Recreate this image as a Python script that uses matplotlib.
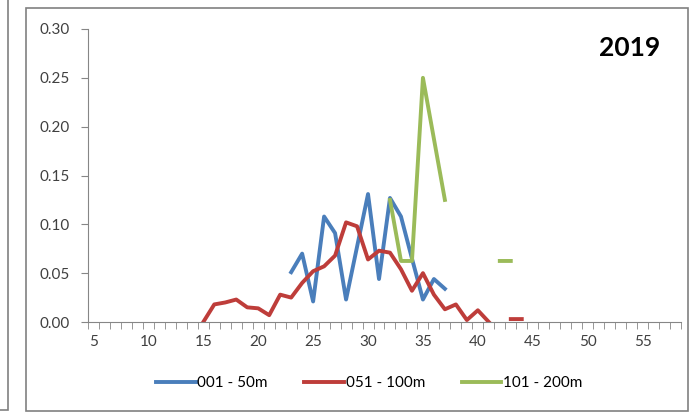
import matplotlib
matplotlib.use('Agg')
import matplotlib.pyplot as plt
from matplotlib.patches import Rectangle
import numpy as np

nan = np.nan

blue_x = list(range(23, 38))
blue_vals = [0.051, 0.070, 0.021, 0.108, 0.091, 0.023, 0.077, 0.131, 0.044,
             0.127, 0.108, 0.065, 0.023, 0.044, 0.034]

red_x = list(range(15, 45))
red_vals = [0.0, 0.018, 0.020, 0.023, 0.015, 0.014, 0.007, 0.028, 0.025, 0.040,
            0.052, 0.057, 0.068, 0.102, 0.098, 0.064, 0.073, 0.071, 0.054, 0.032,
            0.050, 0.028, 0.013, 0.018, 0.002, 0.012, 0.0, nan, 0.003, 0.003]

green_x = list(range(32, 44))
green_vals = [0.125, 0.0625, 0.0625, 0.25, 0.1875, 0.125, nan, nan, nan, nan,
              0.0625, 0.0625]

labels = ['001 - 50m', '051 - 100m', '101 - 200m']
colors = ['#4a7ebb', '#be3d3a', '#9bbb59']
x_ticks = [5, 10, 15, 20, 25, 30, 35, 40, 45, 50, 55]
y_ticks = [0.0, 0.05, 0.10, 0.15, 0.20, 0.25, 0.30]

plt.rcParams['font.family'] = ['Lato', 'DejaVu Sans']

fig = plt.figure(figsize=(6.92, 4.16), dpi=100)
ax = fig.add_axes([88 / 692, 1 - 322 / 416, (681 - 88) / 692, (322 - 29) / 416])

for xs, ys, lab, c in zip([blue_x, red_x, green_x],
                          [blue_vals, red_vals, green_vals], labels, colors):
    ax.plot(xs, ys, color=c, lw=2.8, label=lab, solid_joinstyle='round')

ax.set_xlim(4.5, 58.5)
ax.set_ylim(0, 0.30)
ax.set_xticks(x_ticks)
ax.set_xticks(np.arange(4.5, 59, 1), minor=True)
ax.set_yticks(y_ticks)
ax.set_yticklabels(['%.2f' % v for v in y_ticks])
ax.tick_params(axis='x', which='major', length=0, pad=9, labelsize=11, colors='#404040')
ax.tick_params(axis='x', which='minor', length=5, color='#868686', direction='out')
ax.tick_params(axis='y', length=5, color='#868686', labelsize=11, colors='#404040', pad=8)
for s in ['top', 'right']:
    ax.spines[s].set_visible(False)
for s in ['left', 'bottom']:
    ax.spines[s].set_color('#868686')
ax.set_facecolor('none')

fig.text(630 / 692, 1 - 48 / 416, '2019', fontsize=19, fontweight='bold',
         ha='center', va='center')

fig.legend(loc='center', bbox_to_anchor=(369 / 692, 1 - 383 / 416), ncol=3,
           frameon=False, fontsize=11, handlelength=2.6, handletextpad=0.1,
           columnspacing=2.4)

# chart borders
fig.patches.append(Rectangle((26 / 692, 1 - 411 / 416), (688 - 26) / 692, (411 - 8) / 416,
                             transform=fig.transFigure, fill=False,
                             edgecolor='#808080', lw=1.2))
fig.patches.append(Rectangle((-10 / 692, 1 - 410 / 416), 18 / 692, 420 / 416,
                             transform=fig.transFigure, fill=False,
                             edgecolor='#808080', lw=1.2))

plt.savefig('out.png', dpi=100)
